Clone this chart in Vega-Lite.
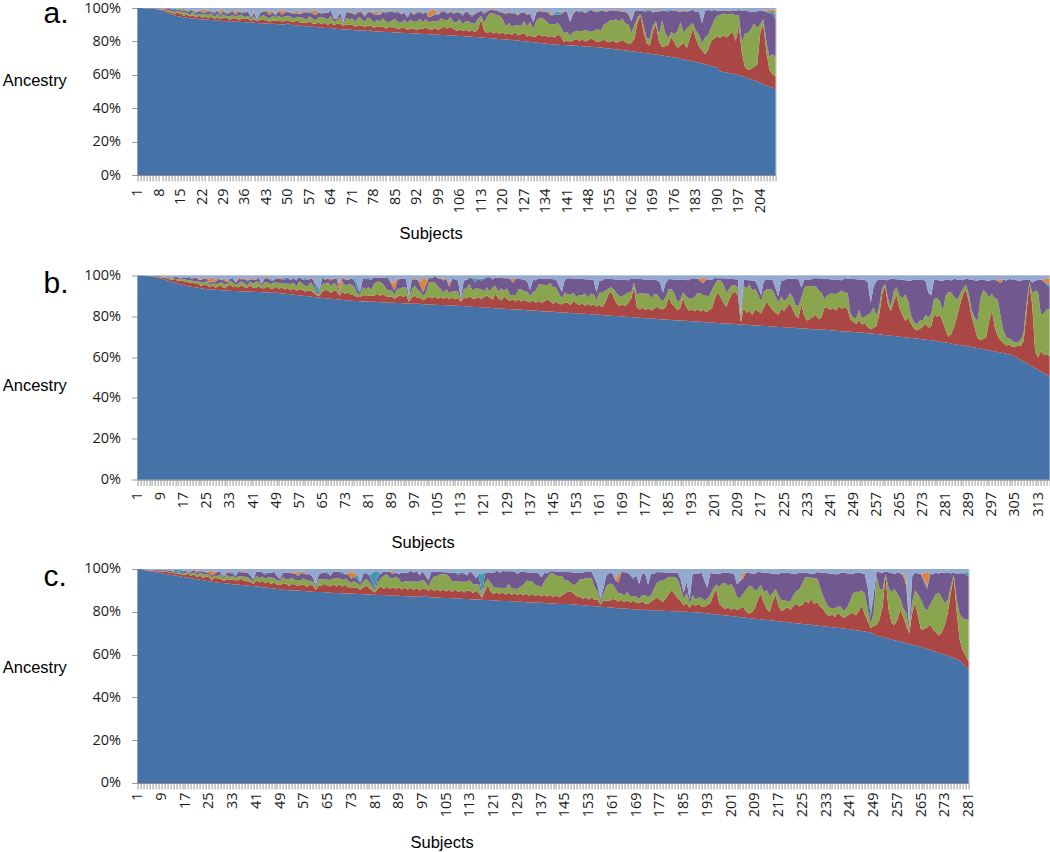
{
"$schema":"https://vega.github.io/schema/vega-lite/v6.json",
"padding":{"left":1.6,"top":-2,"right":0,"bottom":0},
"background":"white",
"spacing":8.5,
"config":{
"view":{"stroke":"#C8C8C8","strokeWidth":1},
"font":"Liberation Sans",
"axis":{"labelFont":"Open Sans","labelFontSize":14.5,"labelColor":"#1a1a1a","domainColor":"#8C8C8C","tickColor":"#9A9A9A","grid":false,"titleFont":"Liberation Sans","titleFontSize":16.5,"titleFontWeight":"normal","titleColor":"#000000"},
"title":{"font":"Liberation Sans","fontSize":30,"fontWeight":"normal","color":"#000000"}
},
"datasets":{
"A":[
{"s":1,"a":100,"b":0,"c":0,"d":0,"e":0,"f":0,"g":0},
{"s":2,"a":100,"b":0,"c":0,"d":0,"e":0,"f":0,"g":0},
{"s":3,"a":99.9,"b":0,"c":0,"d":0,"e":0,"f":0,"g":0.1},
{"s":4,"a":99.8,"b":0,"c":0,"d":0,"e":0,"f":0,"g":0.2},
{"s":5,"a":99.7,"b":0.1,"c":0,"d":0.1,"e":0,"f":0,"g":0.1},
{"s":6,"a":99.5,"b":0.1,"c":0.1,"d":0.1,"e":0,"f":0,"g":0.2},
{"s":7,"a":99.3,"b":0.2,"c":0.1,"d":0.2,"e":0,"f":0,"g":0.2},
{"s":8,"a":99,"b":0.3,"c":0.2,"d":0.2,"e":0,"f":0.1,"g":0.2},
{"s":9,"a":98.4,"b":0.5,"c":0.3,"d":0.3,"e":0.1,"f":0.1,"g":0.3},
{"s":10,"a":97.6,"b":0.9,"c":0.5,"d":0.4,"e":0.1,"f":0.2,"g":0.3},
{"s":11,"a":96.8,"b":1,"c":1,"d":1,"e":0,"f":0,"g":0.2},
{"s":12,"a":96.2,"b":1,"c":1,"d":1,"e":0,"f":0,"g":0.8},
{"s":13,"a":95.6,"b":1,"c":1,"d":1,"e":1,"f":0,"g":0.4},
{"s":14,"a":95.1,"b":2,"c":1,"d":1,"e":0,"f":0,"g":0.9},
{"s":15,"a":94.7,"b":2,"c":1,"d":1,"e":0,"f":1,"g":0.3},
{"s":16,"a":94.4,"b":1,"c":2,"d":1,"e":1,"f":0,"g":0.6},
{"s":17,"a":94.1,"b":2,"c":1,"d":1,"e":0,"f":1,"g":0.9},
{"s":18,"a":93.9,"b":1,"c":1,"d":2,"e":1,"f":0,"g":1.1},
{"s":19,"a":93.7,"b":2,"c":2,"d":1,"e":0,"f":0,"g":1.3},
{"s":20,"a":93.5,"b":1,"c":1,"d":1,"e":1,"f":1,"g":1.5},
{"s":21,"a":93.3,"b":2,"c":1,"d":2,"e":0,"f":0,"g":1.7},
{"s":22,"a":93.2,"b":1,"c":2,"d":1,"e":1,"f":1,"g":0.8},
{"s":23,"a":93.0,"b":2,"c":1,"d":1,"e":0,"f":2,"g":0.9},
{"s":24,"a":92.9,"b":1,"c":2,"d":2,"e":1,"f":0,"g":1.1},
{"s":25,"a":92.8,"b":2,"c":2,"d":1,"e":0,"f":1,"g":1.2},
{"s":26,"a":92.6,"b":1,"c":1,"d":2,"e":1,"f":0,"g":2.4},
{"s":27,"a":92.5,"b":2,"c":2,"d":2,"e":0,"f":0,"g":1.5},
{"s":28,"a":92.4,"b":1,"c":1,"d":1,"e":1,"f":2,"g":1.6},
{"s":29,"a":92.2,"b":2,"c":2,"d":2,"e":0,"f":1,"g":0.8},
{"s":30,"a":92.1,"b":2,"c":1,"d":1,"e":1,"f":0,"g":2.9},
{"s":31,"a":92.0,"b":1,"c":2,"d":2,"e":0,"f":1,"g":2.0},
{"s":32,"a":91.9,"b":2,"c":2,"d":2,"e":1,"f":0,"g":1.1},
{"s":33,"a":91.8,"b":2,"c":1,"d":1,"e":0,"f":2,"g":2.2},
{"s":34,"a":91.7,"b":1,"c":3,"d":2,"e":0,"f":1,"g":1.3},
{"s":35,"a":91.6,"b":2,"c":2,"d":1,"e":1,"f":0,"g":2.4},
{"s":36,"a":91.5,"b":2,"c":1,"d":3,"e":0,"f":1,"g":1.5},
{"s":37,"a":91.4,"b":2,"c":2,"d":2,"e":1,"f":0,"g":1.6},
{"s":38,"a":91.3,"b":1,"c":1,"d":1,"e":0,"f":0,"g":5.7},
{"s":39,"a":91.2,"b":2,"c":2,"d":2,"e":0,"f":1,"g":1.8},
{"s":40,"a":91.0,"b":1,"c":0,"d":1,"e":0,"f":0,"g":7.0},
{"s":41,"a":90.9,"b":2,"c":2,"d":2,"e":1,"f":0,"g":2.1},
{"s":42,"a":90.8,"b":2,"c":3,"d":2,"e":0,"f":1,"g":1.2},
{"s":43,"a":90.7,"b":2,"c":2,"d":3,"e":1,"f":0,"g":1.3},
{"s":44,"a":90.6,"b":1,"c":2,"d":2,"e":0,"f":2,"g":2.4},
{"s":45,"a":90.5,"b":2,"c":3,"d":2,"e":0,"f":1,"g":1.5},
{"s":46,"a":90.4,"b":2,"c":2,"d":1,"e":1,"f":0,"g":3.6},
{"s":47,"a":90.2,"b":2,"c":3,"d":3,"e":0,"f":1,"g":0.8},
{"s":48,"a":90.1,"b":2,"c":2,"d":2,"e":0,"f":2,"g":1.9},
{"s":49,"a":90.0,"b":2,"c":3,"d":2,"e":1,"f":1,"g":0.9},
{"s":50,"a":89.9,"b":2,"c":2,"d":3,"e":0,"f":0,"g":2.1},
{"s":51,"a":89.8,"b":2,"c":3,"d":2,"e":0,"f":1,"g":2.2},
{"s":52,"a":89.6,"b":2,"c":2,"d":3,"e":1,"f":0,"g":2.4},
{"s":53,"a":89.5,"b":3,"c":2,"d":2,"e":0,"f":2,"g":1.3},
{"s":54,"a":89.3,"b":2,"c":3,"d":2,"e":0,"f":0,"g":3.7},
{"s":55,"a":89.2,"b":2,"c":3,"d":3,"e":0,"f":1,"g":1.8},
{"s":56,"a":89.0,"b":2,"c":2,"d":4,"e":1,"f":0,"g":2.0},
{"s":57,"a":88.9,"b":3,"c":3,"d":2,"e":0,"f":1,"g":1.9},
{"s":58,"a":88.7,"b":2,"c":3,"d":3,"e":1,"f":1,"g":1.3},
{"s":59,"a":88.6,"b":2,"c":2,"d":3,"e":0,"f":3,"g":1.4},
{"s":60,"a":88.4,"b":3,"c":3,"d":3,"e":0,"f":0,"g":2.6},
{"s":61,"a":88.3,"b":2,"c":4,"d":2,"e":1,"f":0,"g":2.7},
{"s":62,"a":88.1,"b":3,"c":3,"d":3,"e":0,"f":1,"g":1.9},
{"s":63,"a":88.0,"b":2,"c":3,"d":4,"e":0,"f":0,"g":3.0},
{"s":64,"a":87.8,"b":3,"c":4,"d":3,"e":1,"f":0,"g":0.8},
{"s":65,"a":87.7,"b":2,"c":2,"d":2,"e":0,"f":0,"g":6.3},
{"s":66,"a":87.5,"b":3,"c":2,"d":1,"e":0,"f":0,"g":6.5},
{"s":67,"a":87.4,"b":3,"c":4,"d":3,"e":0,"f":1,"g":1.6},
{"s":68,"a":87.2,"b":2,"c":1,"d":1,"e":0,"f":0,"g":8.8},
{"s":69,"a":87.1,"b":3,"c":4,"d":3,"e":1,"f":0,"g":1.9},
{"s":70,"a":86.9,"b":3,"c":3,"d":4,"e":0,"f":1,"g":1.8},
{"s":71,"a":86.8,"b":3,"c":4,"d":3,"e":0,"f":0,"g":3.2},
{"s":72,"a":86.7,"b":2,"c":3,"d":4,"e":1,"f":1,"g":2.3},
{"s":73,"a":86.6,"b":3,"c":5,"d":3,"e":0,"f":0,"g":2.4},
{"s":74,"a":86.5,"b":3,"c":4,"d":4,"e":0,"f":1,"g":1.5},
{"s":75,"a":86.4,"b":2,"c":3,"d":3,"e":1,"f":0,"g":4.3},
{"s":76,"a":86.3,"b":3,"c":5,"d":3,"e":0,"f":1,"g":1.7},
{"s":77,"a":86.2,"b":3,"c":4,"d":4,"e":0,"f":0,"g":2.4},
{"s":78,"a":86.1,"b":2,"c":3,"d":5,"e":1,"f":1,"g":1.9},
{"s":79,"a":86.0,"b":3,"c":4,"d":3,"e":0,"f":2,"g":2.0},
{"s":80,"a":85.9,"b":3,"c":3,"d":4,"e":0,"f":0,"g":4.1},
{"s":81,"a":85.8,"b":3,"c":5,"d":4,"e":0,"f":1,"g":1.2},
{"s":82,"a":85.7,"b":2,"c":4,"d":5,"e":1,"f":0,"g":2.3},
{"s":83,"a":85.6,"b":3,"c":3,"d":6,"e":0,"f":1,"g":1.4},
{"s":84,"a":85.5,"b":3,"c":4,"d":5,"e":1,"f":0,"g":1.5},
{"s":85,"a":85.4,"b":3,"c":5,"d":4,"e":0,"f":0,"g":2.6},
{"s":86,"a":85.3,"b":2,"c":4,"d":6,"e":1,"f":1,"g":0.7},
{"s":87,"a":85.2,"b":3,"c":3,"d":5,"e":0,"f":0,"g":3.8},
{"s":88,"a":85.1,"b":3,"c":5,"d":4,"e":0,"f":1,"g":1.9},
{"s":89,"a":85.0,"b":2,"c":4,"d":3,"e":1,"f":0,"g":5.0},
{"s":90,"a":84.9,"b":3,"c":5,"d":5,"e":0,"f":0,"g":2.1},
{"s":91,"a":84.8,"b":3,"c":4,"d":4,"e":0,"f":1,"g":3.2},
{"s":92,"a":84.7,"b":2,"c":5,"d":5,"e":1,"f":0,"g":2.3},
{"s":93,"a":84.6,"b":3,"c":6,"d":4,"e":0,"f":1,"g":1.4},
{"s":94,"a":84.5,"b":3,"c":4,"d":5,"e":0,"f":0,"g":3.5},
{"s":95,"a":84.4,"b":4,"c":5,"d":4,"e":1,"f":0,"g":1.6},
{"s":96,"a":84.3,"b":3,"c":4,"d":3,"e":0,"f":3,"g":2.7},
{"s":97,"a":84.2,"b":3,"c":5,"d":3,"e":0,"f":4,"g":0.8},
{"s":98,"a":84.1,"b":4,"c":4,"d":4,"e":1,"f":2,"g":0.9},
{"s":99,"a":84.0,"b":3,"c":5,"d":4,"e":0,"f":0,"g":4.0},
{"s":100,"a":83.9,"b":4,"c":6,"d":4,"e":0,"f":1,"g":1.1},
{"s":101,"a":83.8,"b":5,"c":4,"d":5,"e":1,"f":0,"g":1.2},
{"s":102,"a":83.7,"b":4,"c":5,"d":4,"e":0,"f":0,"g":3.3},
{"s":103,"a":83.6,"b":5,"c":6,"d":3,"e":0,"f":1,"g":1.4},
{"s":104,"a":83.5,"b":4,"c":4,"d":5,"e":1,"f":0,"g":2.5},
{"s":105,"a":83.4,"b":3,"c":5,"d":6,"e":0,"f":1,"g":1.6},
{"s":106,"a":83.3,"b":4,"c":6,"d":4,"e":0,"f":0,"g":2.7},
{"s":107,"a":83.2,"b":3,"c":4,"d":5,"e":1,"f":1,"g":2.8},
{"s":108,"a":83.0,"b":4,"c":5,"d":6,"e":0,"f":0,"g":2.0},
{"s":109,"a":82.9,"b":3,"c":6,"d":5,"e":0,"f":1,"g":2.1},
{"s":110,"a":82.8,"b":4,"c":4,"d":4,"e":1,"f":0,"g":4.2},
{"s":111,"a":82.6,"b":3,"c":5,"d":6,"e":0,"f":1,"g":2.4},
{"s":112,"a":82.5,"b":5,"c":6,"d":4,"e":0,"f":0,"g":2.5},
{"s":113,"a":82.3,"b":11,"c":2,"d":3,"e":0,"f":0,"g":1.7},
{"s":114,"a":82.2,"b":4,"c":5,"d":5,"e":1,"f":1,"g":1.8},
{"s":115,"a":82.0,"b":3,"c":10,"d":3,"e":0,"f":0,"g":2.0},
{"s":116,"a":81.9,"b":4,"c":11,"d":2,"e":0,"f":0,"g":1.1},
{"s":117,"a":81.7,"b":3,"c":12,"d":2,"e":0,"f":1,"g":0.3},
{"s":118,"a":81.6,"b":4,"c":10,"d":3,"e":0,"f":0,"g":1.4},
{"s":119,"a":81.4,"b":3,"c":11,"d":2,"e":1,"f":0,"g":1.6},
{"s":120,"a":81.3,"b":4,"c":8,"d":4,"e":0,"f":1,"g":1.7},
{"s":121,"a":81.1,"b":3,"c":5,"d":7,"e":1,"f":0,"g":2.9},
{"s":122,"a":81.0,"b":4,"c":6,"d":6,"e":0,"f":1,"g":2.0},
{"s":123,"a":80.8,"b":3,"c":5,"d":8,"e":0,"f":0,"g":3.2},
{"s":124,"a":80.7,"b":5,"c":4,"d":7,"e":1,"f":0,"g":2.3},
{"s":125,"a":80.5,"b":3,"c":6,"d":6,"e":0,"f":1,"g":3.5},
{"s":126,"a":80.3,"b":4,"c":5,"d":8,"e":0,"f":0,"g":2.7},
{"s":127,"a":80.1,"b":5,"c":7,"d":5,"e":1,"f":0,"g":1.9},
{"s":128,"a":79.9,"b":3,"c":6,"d":7,"e":0,"f":1,"g":3.1},
{"s":129,"a":79.7,"b":4,"c":8,"d":5,"e":0,"f":0,"g":3.3},
{"s":130,"a":79.5,"b":3,"c":5,"d":4,"e":0,"f":0,"g":8.5},
{"s":131,"a":79.3,"b":4,"c":9,"d":5,"e":0,"f":1,"g":1.7},
{"s":132,"a":79.1,"b":5,"c":10,"d":4,"e":1,"f":0,"g":0.9},
{"s":133,"a":78.9,"b":4,"c":11,"d":4,"e":0,"f":1,"g":1.1},
{"s":134,"a":78.7,"b":5,"c":9,"d":5,"e":0,"f":0,"g":2.3},
{"s":135,"a":78.5,"b":4,"c":8,"d":6,"e":1,"f":1,"g":1.5},
{"s":136,"a":78.3,"b":5,"c":7,"d":5,"e":0,"f":1,"g":3.7},
{"s":137,"a":78.2,"b":4,"c":8,"d":6,"e":1,"f":0,"g":2.8},
{"s":138,"a":78.0,"b":6,"c":7,"d":5,"e":2,"f":0,"g":2.0},
{"s":139,"a":77.9,"b":5,"c":6,"d":7,"e":1,"f":1,"g":2.1},
{"s":140,"a":77.8,"b":2,"c":5,"d":13,"e":0,"f":0,"g":2.2},
{"s":141,"a":77.7,"b":3,"c":5,"d":12,"e":1,"f":0,"g":1.3},
{"s":142,"a":77.6,"b":2,"c":4,"d":8,"e":0,"f":0,"g":8.4},
{"s":143,"a":77.5,"b":3,"c":5,"d":11,"e":0,"f":1,"g":2.5},
{"s":144,"a":77.4,"b":4,"c":5,"d":12,"e":0,"f":0,"g":1.6},
{"s":145,"a":77.3,"b":3,"c":6,"d":11,"e":1,"f":0,"g":1.7},
{"s":146,"a":77.1,"b":4,"c":5,"d":12,"e":0,"f":1,"g":0.9},
{"s":147,"a":77.0,"b":3,"c":7,"d":10,"e":0,"f":0,"g":3.0},
{"s":148,"a":76.9,"b":4,"c":5,"d":12,"e":1,"f":0,"g":1.1},
{"s":149,"a":76.8,"b":5,"c":4,"d":13,"e":0,"f":0,"g":1.2},
{"s":150,"a":76.6,"b":4,"c":6,"d":11,"e":0,"f":1,"g":1.4},
{"s":151,"a":76.5,"b":3,"c":8,"d":10,"e":1,"f":0,"g":1.5},
{"s":152,"a":76.3,"b":4,"c":6,"d":12,"e":0,"f":0,"g":1.7},
{"s":153,"a":76.1,"b":5,"c":9,"d":8,"e":0,"f":1,"g":0.9},
{"s":154,"a":75.9,"b":4,"c":11,"d":7,"e":0,"f":0,"g":2.1},
{"s":155,"a":75.7,"b":4,"c":13,"d":6,"e":0,"f":0,"g":1.3},
{"s":156,"a":75.5,"b":5,"c":12,"d":6,"e":0,"f":1,"g":0.5},
{"s":157,"a":75.2,"b":4,"c":14,"d":5,"e":0,"f":0,"g":1.8},
{"s":158,"a":75.0,"b":5,"c":12,"d":6,"e":1,"f":0,"g":1.0},
{"s":159,"a":74.8,"b":6,"c":13,"d":4,"e":0,"f":1,"g":1.2},
{"s":160,"a":74.6,"b":5,"c":11,"d":7,"e":0,"f":0,"g":2.4},
{"s":161,"a":74.4,"b":4,"c":12,"d":6,"e":0,"f":1,"g":2.6},
{"s":162,"a":74.1,"b":5,"c":6,"d":7,"e":0,"f":0,"g":7.9},
{"s":163,"a":73.9,"b":8,"c":8,"d":8,"e":0,"f":1,"g":1.1},
{"s":164,"a":73.6,"b":18,"c":3,"d":4,"e":0,"f":0,"g":1.4},
{"s":165,"a":73.4,"b":22,"c":1,"d":2,"e":0,"f":0,"g":1.6},
{"s":166,"a":73.1,"b":12,"c":4,"d":9,"e":0,"f":0,"g":1.9},
{"s":167,"a":72.9,"b":6,"c":3,"d":16,"e":1,"f":0,"g":1.1},
{"s":168,"a":72.6,"b":5,"c":4,"d":17,"e":0,"f":1,"g":0.4},
{"s":169,"a":72.3,"b":14,"c":3,"d":8,"e":0,"f":0,"g":2.7},
{"s":170,"a":72.1,"b":18,"c":2,"d":6,"e":0,"f":0,"g":1.9},
{"s":171,"a":71.8,"b":8,"c":4,"d":14,"e":0,"f":1,"g":1.2},
{"s":172,"a":71.5,"b":5,"c":16,"d":6,"e":0,"f":0,"g":1.5},
{"s":173,"a":71.2,"b":6,"c":8,"d":13,"e":0,"f":0,"g":1.8},
{"s":174,"a":70.9,"b":7,"c":4,"d":16,"e":1,"f":0,"g":1.1},
{"s":175,"a":70.6,"b":12,"c":3,"d":13,"e":0,"f":0,"g":1.4},
{"s":176,"a":70.3,"b":9,"c":5,"d":14,"e":0,"f":0,"g":1.7},
{"s":177,"a":70.0,"b":6,"c":10,"d":12,"e":0,"f":1,"g":1.0},
{"s":178,"a":69.6,"b":8,"c":14,"d":6,"e":0,"f":0,"g":2.4},
{"s":179,"a":69.2,"b":10,"c":6,"d":13,"e":0,"f":0,"g":1.8},
{"s":180,"a":68.8,"b":7,"c":12,"d":10,"e":0,"f":1,"g":1.2},
{"s":181,"a":68.4,"b":13,"c":8,"d":9,"e":0,"f":0,"g":1.6},
{"s":182,"a":68.0,"b":20,"c":3,"d":8,"e":0,"f":0,"g":1.0},
{"s":183,"a":67.6,"b":14,"c":5,"d":11,"e":0,"f":0,"g":2.4},
{"s":184,"a":67.2,"b":10,"c":7,"d":14,"e":0,"f":0,"g":1.8},
{"s":185,"a":66.8,"b":8,"c":4,"d":12,"e":0,"f":0,"g":9.2},
{"s":186,"a":66.3,"b":6,"c":10,"d":16,"e":0,"f":0,"g":1.7},
{"s":187,"a":65.8,"b":9,"c":9,"d":15,"e":0,"f":0,"g":1.2},
{"s":188,"a":65.3,"b":15,"c":8,"d":10,"e":0,"f":0,"g":1.7},
{"s":189,"a":64.8,"b":17,"c":11,"d":6,"e":0,"f":0,"g":1.2},
{"s":190,"a":64.3,"b":19,"c":12,"d":3,"e":0,"f":0,"g":1.7},
{"s":191,"a":62.0,"b":20,"c":14,"d":2,"e":0,"f":0,"g":2.0},
{"s":192,"a":61.7,"b":22,"c":13,"d":2,"e":0,"f":0,"g":1.3},
{"s":193,"a":61.4,"b":21,"c":14,"d":2,"e":0,"f":0,"g":1.6},
{"s":194,"a":61.1,"b":23,"c":12,"d":2,"e":0,"f":0,"g":1.9},
{"s":195,"a":60.7,"b":25,"c":11,"d":2,"e":0,"f":0,"g":1.3},
{"s":196,"a":60.3,"b":20,"c":15,"d":3,"e":0,"f":0,"g":1.7},
{"s":197,"a":59.8,"b":30,"c":6,"d":3,"e":0,"f":0,"g":1.2},
{"s":198,"a":59.3,"b":14,"c":6,"d":19,"e":0,"f":0,"g":1.7},
{"s":199,"a":58.7,"b":6,"c":20,"d":14,"e":0,"f":0,"g":1.3},
{"s":200,"a":58.1,"b":5,"c":22,"d":13,"e":0,"f":0,"g":1.9},
{"s":201,"a":57.4,"b":6,"c":24,"d":10,"e":0,"f":0,"g":2.6},
{"s":202,"a":56.7,"b":8,"c":26,"d":7,"e":0,"f":0,"g":2.3},
{"s":203,"a":56.0,"b":10,"c":22,"d":10,"e":0,"f":0,"g":2.0},
{"s":204,"a":55.2,"b":30,"c":5,"d":8,"e":0,"f":0,"g":1.8},
{"s":205,"a":54.4,"b":36,"c":3,"d":5,"e":0,"f":0,"g":1.6},
{"s":206,"a":53.6,"b":20,"c":6,"d":18,"e":0,"f":1,"g":1.4},
{"s":207,"a":52.8,"b":10,"c":8,"d":26,"e":1,"f":1,"g":1.2},
{"s":208,"a":52.3,"b":8,"c":12,"d":24,"e":2,"f":1,"g":0.7},
{"s":209,"a":52.0,"b":7,"c":12,"d":22,"e":3,"f":3,"g":1.0}
],
"B":[
{"s":1,"a":100,"b":0,"c":0,"d":0,"e":0,"f":0,"g":0},
{"s":2,"a":100,"b":0,"c":0,"d":0,"e":0,"f":0,"g":0},
{"s":3,"a":99.9,"b":0,"c":0,"d":0,"e":0,"f":0,"g":0.1},
{"s":4,"a":99.8,"b":0,"c":0,"d":0,"e":0,"f":0,"g":0.2},
{"s":5,"a":99.6,"b":0.1,"c":0,"d":0.1,"e":0,"f":0,"g":0.2},
{"s":6,"a":99.4,"b":0.2,"c":0.1,"d":0.1,"e":0,"f":0,"g":0.2},
{"s":7,"a":99.2,"b":0.3,"c":0.1,"d":0.1,"e":0,"f":0,"g":0.3},
{"s":8,"a":98.9,"b":0.4,"c":0.2,"d":0.2,"e":0,"f":0,"g":0.3},
{"s":9,"a":98.5,"b":0.5,"c":0.2,"d":0.3,"e":0.1,"f":0,"g":0.4},
{"s":10,"a":98.1,"b":0.7,"c":0.3,"d":0.3,"e":0.1,"f":0,"g":0.5},
{"s":11,"a":97.7,"b":1,"c":0.3,"d":0.3,"e":0.1,"f":0.1,"g":0.5},
{"s":12,"a":97.2,"b":1,"c":0.5,"d":0.4,"e":0.2,"f":0.1,"g":0.6},
{"s":13,"a":96.8,"b":1,"c":1,"d":0,"e":0,"f":0,"g":1.2},
{"s":14,"a":96.4,"b":2,"c":0,"d":1,"e":0,"f":0,"g":0.6},
{"s":15,"a":96.0,"b":1,"c":1,"d":1,"e":0,"f":0,"g":1.0},
{"s":16,"a":95.6,"b":2,"c":1,"d":0,"e":0,"f":0,"g":1.4},
{"s":17,"a":95.2,"b":2,"c":1,"d":1,"e":0,"f":0,"g":0.8},
{"s":18,"a":94.9,"b":2,"c":1,"d":1,"e":0,"f":0,"g":1.1},
{"s":19,"a":94.6,"b":2,"c":1,"d":1,"e":1,"f":0,"g":0.4},
{"s":20,"a":94.4,"b":2,"c":1,"d":1,"e":0,"f":0,"g":1.6},
{"s":21,"a":94.2,"b":2,"c":1,"d":2,"e":0,"f":0,"g":0.8},
{"s":22,"a":94.0,"b":2,"c":1,"d":1,"e":0,"f":1,"g":1.0},
{"s":23,"a":93.8,"b":1,"c":2,"d":1,"e":0,"f":0,"g":2.2},
{"s":24,"a":93.5,"b":2,"c":1,"d":2,"e":0,"f":1,"g":0.5},
{"s":25,"a":93.3,"b":2,"c":2,"d":1,"e":0,"f":0,"g":1.7},
{"s":26,"a":93.2,"b":1,"c":1,"d":1,"e":0,"f":2,"g":1.8},
{"s":27,"a":93.1,"b":2,"c":1,"d":1,"e":0,"f":2,"g":0.9},
{"s":28,"a":93.0,"b":1,"c":2,"d":1,"e":0,"f":1,"g":2.0},
{"s":29,"a":92.9,"b":2,"c":1,"d":2,"e":1,"f":0,"g":1.1},
{"s":30,"a":92.8,"b":2,"c":2,"d":1,"e":0,"f":0,"g":2.2},
{"s":31,"a":92.7,"b":1,"c":2,"d":2,"e":0,"f":1,"g":1.3},
{"s":32,"a":92.6,"b":2,"c":1,"d":1,"e":0,"f":1,"g":2.4},
{"s":33,"a":92.5,"b":3,"c":2,"d":1,"e":0,"f":0,"g":1.5},
{"s":34,"a":92.4,"b":2,"c":2,"d":2,"e":1,"f":0,"g":0.6},
{"s":35,"a":92.4,"b":2,"c":1,"d":1,"e":0,"f":0,"g":3.6},
{"s":36,"a":92.3,"b":2,"c":2,"d":2,"e":0,"f":1,"g":0.7},
{"s":37,"a":92.2,"b":3,"c":2,"d":1,"e":0,"f":0,"g":1.8},
{"s":38,"a":92.2,"b":2,"c":2,"d":2,"e":0,"f":1,"g":0.8},
{"s":39,"a":92.1,"b":2,"c":1,"d":2,"e":1,"f":0,"g":1.9},
{"s":40,"a":92.1,"b":3,"c":2,"d":1,"e":0,"f":0,"g":1.9},
{"s":41,"a":92.0,"b":2,"c":2,"d":2,"e":0,"f":1,"g":1.0},
{"s":42,"a":91.9,"b":2,"c":3,"d":1,"e":0,"f":0,"g":2.1},
{"s":43,"a":91.9,"b":3,"c":2,"d":2,"e":0,"f":0,"g":1.1},
{"s":44,"a":91.8,"b":2,"c":1,"d":1,"e":0,"f":0,"g":4.2},
{"s":45,"a":91.7,"b":2,"c":3,"d":2,"e":0,"f":0,"g":1.3},
{"s":46,"a":91.7,"b":3,"c":2,"d":2,"e":0,"f":1,"g":0.3},
{"s":47,"a":91.6,"b":2,"c":2,"d":2,"e":1,"f":0,"g":1.4},
{"s":48,"a":91.6,"b":2,"c":3,"d":1,"e":0,"f":0,"g":2.4},
{"s":49,"a":91.5,"b":3,"c":2,"d":2,"e":0,"f":0,"g":1.5},
{"s":50,"a":91.4,"b":2,"c":3,"d":2,"e":0,"f":1,"g":0.6},
{"s":51,"a":91.2,"b":3,"c":2,"d":2,"e":0,"f":0,"g":1.8},
{"s":52,"a":91.1,"b":2,"c":3,"d":2,"e":1,"f":0,"g":0.9},
{"s":53,"a":90.9,"b":3,"c":2,"d":3,"e":0,"f":0,"g":1.1},
{"s":54,"a":90.8,"b":2,"c":3,"d":2,"e":0,"f":0,"g":2.2},
{"s":55,"a":90.6,"b":3,"c":3,"d":2,"e":0,"f":0,"g":1.4},
{"s":56,"a":90.5,"b":2,"c":2,"d":3,"e":0,"f":0,"g":2.5},
{"s":57,"a":90.3,"b":3,"c":4,"d":2,"e":0,"f":0,"g":0.7},
{"s":58,"a":90.1,"b":3,"c":3,"d":2,"e":0,"f":0,"g":1.9},
{"s":59,"a":90.0,"b":2,"c":3,"d":3,"e":1,"f":0,"g":1.0},
{"s":60,"a":89.8,"b":3,"c":2,"d":3,"e":0,"f":0,"g":2.2},
{"s":61,"a":89.7,"b":3,"c":4,"d":2,"e":0,"f":0,"g":1.3},
{"s":62,"a":89.5,"b":2,"c":3,"d":3,"e":0,"f":1,"g":1.5},
{"s":63,"a":89.3,"b":1,"c":1,"d":1,"e":3,"f":0,"g":4.7},
{"s":64,"a":89.2,"b":1,"c":1,"d":1,"e":1,"f":0,"g":6.8},
{"s":65,"a":89.0,"b":3,"c":4,"d":3,"e":0,"f":0,"g":1.0},
{"s":66,"a":88.9,"b":4,"c":3,"d":2,"e":0,"f":0,"g":2.1},
{"s":67,"a":88.7,"b":4,"c":4,"d":2,"e":0,"f":0,"g":1.3},
{"s":68,"a":88.6,"b":3,"c":3,"d":3,"e":0,"f":1,"g":1.4},
{"s":69,"a":88.5,"b":4,"c":4,"d":2,"e":0,"f":0,"g":1.5},
{"s":70,"a":88.3,"b":4,"c":3,"d":3,"e":0,"f":0,"g":1.7},
{"s":71,"a":88.2,"b":2,"c":1,"d":1,"e":0,"f":4,"g":3.8},
{"s":72,"a":88.0,"b":4,"c":5,"d":2,"e":0,"f":0,"g":1.0},
{"s":73,"a":87.9,"b":3,"c":4,"d":3,"e":0,"f":1,"g":1.1},
{"s":74,"a":87.8,"b":4,"c":4,"d":2,"e":0,"f":0,"g":2.2},
{"s":75,"a":87.6,"b":3,"c":5,"d":3,"e":0,"f":0,"g":1.4},
{"s":76,"a":87.5,"b":3,"c":4,"d":3,"e":1,"f":0,"g":1.5},
{"s":77,"a":87.5,"b":2,"c":2,"d":2,"e":3,"f":0,"g":3.5},
{"s":78,"a":87.4,"b":2,"c":1,"d":1,"e":1,"f":0,"g":7.6},
{"s":79,"a":87.3,"b":3,"c":4,"d":4,"e":0,"f":0,"g":1.7},
{"s":80,"a":87.3,"b":3,"c":3,"d":5,"e":0,"f":0,"g":1.7},
{"s":81,"a":87.2,"b":3,"c":4,"d":4,"e":1,"f":0,"g":0.8},
{"s":82,"a":87.1,"b":3,"c":3,"d":5,"e":0,"f":0,"g":1.9},
{"s":83,"a":87.1,"b":3,"c":6,"d":3,"e":0,"f":0,"g":0.9},
{"s":84,"a":87.0,"b":4,"c":6,"d":2,"e":0,"f":0,"g":1.0},
{"s":85,"a":86.9,"b":3,"c":7,"d":2,"e":0,"f":0,"g":1.1},
{"s":86,"a":86.9,"b":4,"c":5,"d":3,"e":0,"f":0,"g":1.1},
{"s":87,"a":86.8,"b":3,"c":4,"d":5,"e":0,"f":0,"g":1.2},
{"s":88,"a":86.7,"b":3,"c":3,"d":6,"e":0,"f":0,"g":1.3},
{"s":89,"a":86.7,"b":3,"c":3,"d":3,"e":0,"f":1,"g":3.3},
{"s":90,"a":86.6,"b":2,"c":2,"d":2,"e":0,"f":4,"g":3.4},
{"s":91,"a":86.5,"b":3,"c":4,"d":4,"e":0,"f":1,"g":1.5},
{"s":92,"a":86.5,"b":4,"c":3,"d":5,"e":0,"f":0,"g":1.5},
{"s":93,"a":86.4,"b":3,"c":5,"d":4,"e":0,"f":0,"g":1.6},
{"s":94,"a":86.3,"b":4,"c":4,"d":4,"e":0,"f":0,"g":1.7},
{"s":95,"a":86.3,"b":1,"c":1,"d":1,"e":0,"f":0,"g":10.7},
{"s":96,"a":86.2,"b":3,"c":4,"d":5,"e":0,"f":0,"g":1.8},
{"s":97,"a":86.1,"b":4,"c":5,"d":3,"e":0,"f":1,"g":0.9},
{"s":98,"a":86.1,"b":3,"c":4,"d":5,"e":0,"f":0,"g":1.9},
{"s":99,"a":86.0,"b":3,"c":3,"d":3,"e":0,"f":2,"g":3.0},
{"s":100,"a":85.9,"b":2,"c":2,"d":2,"e":0,"f":7,"g":1.1},
{"s":101,"a":85.9,"b":3,"c":3,"d":4,"e":0,"f":2,"g":2.1},
{"s":102,"a":85.8,"b":4,"c":7,"d":2,"e":0,"f":0,"g":1.2},
{"s":103,"a":85.7,"b":3,"c":8,"d":2,"e":0,"f":0,"g":1.3},
{"s":104,"a":85.7,"b":4,"c":7,"d":3,"e":0,"f":0,"g":0.3},
{"s":105,"a":85.6,"b":3,"c":6,"d":4,"e":0,"f":0,"g":1.4},
{"s":106,"a":85.5,"b":4,"c":4,"d":5,"e":0,"f":0,"g":1.5},
{"s":107,"a":85.5,"b":3,"c":3,"d":6,"e":0,"f":1,"g":1.5},
{"s":108,"a":85.4,"b":4,"c":4,"d":5,"e":0,"f":0,"g":1.6},
{"s":109,"a":85.3,"b":3,"c":3,"d":3,"e":0,"f":2,"g":3.7},
{"s":110,"a":85.3,"b":4,"c":3,"d":6,"e":0,"f":0,"g":1.7},
{"s":111,"a":85.2,"b":3,"c":4,"d":6,"e":0,"f":0,"g":1.8},
{"s":112,"a":85.2,"b":4,"c":3,"d":5,"e":1,"f":0,"g":1.8},
{"s":113,"a":85.1,"b":2,"c":1,"d":1,"e":0,"f":0,"g":10.9},
{"s":114,"a":85.0,"b":4,"c":4,"d":4,"e":1,"f":0,"g":2.0},
{"s":115,"a":84.9,"b":4,"c":5,"d":4,"e":0,"f":0,"g":2.1},
{"s":116,"a":84.8,"b":5,"c":6,"d":3,"e":0,"f":0,"g":1.2},
{"s":117,"a":84.7,"b":4,"c":4,"d":6,"e":0,"f":0,"g":1.3},
{"s":118,"a":84.6,"b":4,"c":5,"d":3,"e":2,"f":0,"g":1.4},
{"s":119,"a":84.5,"b":5,"c":4,"d":5,"e":0,"f":0,"g":1.5},
{"s":120,"a":84.4,"b":4,"c":5,"d":4,"e":1,"f":0,"g":1.6},
{"s":121,"a":84.3,"b":5,"c":3,"d":6,"e":0,"f":0,"g":1.7},
{"s":122,"a":84.2,"b":6,"c":4,"d":5,"e":0,"f":0,"g":0.8},
{"s":123,"a":84.2,"b":5,"c":3,"d":7,"e":0,"f":0,"g":0.8},
{"s":124,"a":84.1,"b":4,"c":6,"d":4,"e":0,"f":0,"g":1.9},
{"s":125,"a":84.0,"b":7,"c":4,"d":4,"e":0,"f":0,"g":1.0},
{"s":126,"a":83.9,"b":5,"c":3,"d":7,"e":0,"f":0,"g":1.1},
{"s":127,"a":83.8,"b":4,"c":6,"d":5,"e":0,"f":0,"g":1.2},
{"s":128,"a":83.7,"b":6,"c":3,"d":6,"e":0,"f":0,"g":1.3},
{"s":129,"a":83.6,"b":5,"c":5,"d":5,"e":0,"f":0,"g":1.4},
{"s":130,"a":83.5,"b":4,"c":3,"d":8,"e":0,"f":0,"g":1.5},
{"s":131,"a":83.4,"b":5,"c":2,"d":6,"e":0,"f":2,"g":1.6},
{"s":132,"a":83.3,"b":4,"c":3,"d":8,"e":0,"f":0,"g":1.7},
{"s":133,"a":83.3,"b":5,"c":5,"d":5,"e":0,"f":0,"g":1.7},
{"s":134,"a":83.2,"b":4,"c":6,"d":5,"e":0,"f":0,"g":1.8},
{"s":135,"a":83.1,"b":5,"c":4,"d":6,"e":0,"f":0,"g":1.9},
{"s":136,"a":83.0,"b":4,"c":5,"d":5,"e":0,"f":0,"g":3.0},
{"s":137,"a":82.9,"b":4,"c":3,"d":3,"e":0,"f":0,"g":7.1},
{"s":138,"a":82.8,"b":5,"c":4,"d":6,"e":0,"f":0,"g":2.2},
{"s":139,"a":82.7,"b":4,"c":6,"d":5,"e":0,"f":0,"g":2.3},
{"s":140,"a":82.6,"b":5,"c":8,"d":3,"e":0,"f":0,"g":1.4},
{"s":141,"a":82.5,"b":4,"c":9,"d":3,"e":0,"f":0,"g":1.5},
{"s":142,"a":82.4,"b":5,"c":8,"d":3,"e":0,"f":0,"g":1.6},
{"s":143,"a":82.4,"b":6,"c":7,"d":3,"e":0,"f":0,"g":1.6},
{"s":144,"a":82.3,"b":5,"c":9,"d":2,"e":0,"f":0,"g":1.7},
{"s":145,"a":82.2,"b":4,"c":8,"d":4,"e":0,"f":0,"g":1.8},
{"s":146,"a":82.1,"b":5,"c":7,"d":4,"e":0,"f":0,"g":1.9},
{"s":147,"a":82.0,"b":4,"c":5,"d":4,"e":0,"f":0,"g":5.0},
{"s":148,"a":81.9,"b":4,"c":3,"d":3,"e":0,"f":0,"g":8.1},
{"s":149,"a":81.8,"b":5,"c":5,"d":6,"e":0,"f":0,"g":2.2},
{"s":150,"a":81.7,"b":5,"c":4,"d":8,"e":0,"f":0,"g":1.3},
{"s":151,"a":81.6,"b":4,"c":5,"d":8,"e":0,"f":0,"g":1.4},
{"s":152,"a":81.5,"b":6,"c":4,"d":7,"e":0,"f":0,"g":1.5},
{"s":153,"a":81.5,"b":5,"c":3,"d":9,"e":0,"f":0,"g":1.5},
{"s":154,"a":81.4,"b":4,"c":5,"d":8,"e":0,"f":0,"g":1.6},
{"s":155,"a":81.3,"b":5,"c":4,"d":8,"e":0,"f":0,"g":1.7},
{"s":156,"a":81.2,"b":4,"c":6,"d":7,"e":0,"f":0,"g":1.8},
{"s":157,"a":81.1,"b":5,"c":3,"d":9,"e":0,"f":0,"g":1.9},
{"s":158,"a":81.0,"b":4,"c":6,"d":7,"e":0,"f":0,"g":2.0},
{"s":159,"a":80.9,"b":5,"c":5,"d":7,"e":0,"f":0,"g":2.1},
{"s":160,"a":80.8,"b":4,"c":3,"d":4,"e":0,"f":0,"g":8.2},
{"s":161,"a":80.7,"b":5,"c":6,"d":6,"e":0,"f":0,"g":2.3},
{"s":162,"a":80.6,"b":4,"c":7,"d":6,"e":0,"f":0,"g":2.4},
{"s":163,"a":80.5,"b":6,"c":6,"d":6,"e":0,"f":0,"g":1.5},
{"s":164,"a":80.4,"b":10,"c":3,"d":5,"e":0,"f":0,"g":1.6},
{"s":165,"a":80.3,"b":12,"c":2,"d":4,"e":0,"f":0,"g":1.7},
{"s":166,"a":80.2,"b":9,"c":4,"d":5,"e":0,"f":0,"g":1.8},
{"s":167,"a":80.1,"b":6,"c":5,"d":7,"e":0,"f":0,"g":1.9},
{"s":168,"a":80.0,"b":5,"c":5,"d":8,"e":0,"f":0,"g":2.0},
{"s":169,"a":79.9,"b":6,"c":4,"d":8,"e":0,"f":0,"g":2.1},
{"s":170,"a":79.8,"b":5,"c":6,"d":7,"e":0,"f":0,"g":2.2},
{"s":171,"a":79.7,"b":7,"c":5,"d":6,"e":0,"f":0,"g":2.3},
{"s":172,"a":79.6,"b":9,"c":3,"d":7,"e":0,"f":0,"g":1.4},
{"s":173,"a":79.5,"b":15,"c":2,"d":2,"e":0,"f":0,"g":1.5},
{"s":174,"a":79.4,"b":5,"c":6,"d":8,"e":0,"f":0,"g":1.6},
{"s":175,"a":79.3,"b":4,"c":8,"d":7,"e":0,"f":0,"g":1.7},
{"s":176,"a":79.2,"b":5,"c":7,"d":7,"e":0,"f":0,"g":1.8},
{"s":177,"a":79.1,"b":4,"c":8,"d":7,"e":0,"f":0,"g":1.9},
{"s":178,"a":79.0,"b":5,"c":7,"d":7,"e":0,"f":0,"g":2.0},
{"s":179,"a":78.9,"b":4,"c":6,"d":9,"e":0,"f":0,"g":2.1},
{"s":180,"a":78.8,"b":5,"c":7,"d":7,"e":0,"f":0,"g":2.2},
{"s":181,"a":78.7,"b":6,"c":6,"d":7,"e":0,"f":0,"g":2.3},
{"s":182,"a":78.6,"b":5,"c":5,"d":8,"e":0,"f":0,"g":3.4},
{"s":183,"a":78.5,"b":5,"c":4,"d":4,"e":0,"f":0,"g":8.5},
{"s":184,"a":78.4,"b":6,"c":5,"d":7,"e":0,"f":0,"g":3.6},
{"s":185,"a":78.3,"b":11,"c":4,"d":5,"e":0,"f":0,"g":1.7},
{"s":186,"a":78.2,"b":8,"c":7,"d":5,"e":0,"f":0,"g":1.8},
{"s":187,"a":78.1,"b":7,"c":6,"d":7,"e":0,"f":0,"g":1.9},
{"s":188,"a":78.0,"b":5,"c":4,"d":11,"e":0,"f":0,"g":2.0},
{"s":189,"a":77.9,"b":6,"c":4,"d":10,"e":0,"f":0,"g":2.1},
{"s":190,"a":77.8,"b":11,"c":3,"d":6,"e":0,"f":0,"g":2.2},
{"s":191,"a":77.8,"b":7,"c":5,"d":8,"e":0,"f":0,"g":2.2},
{"s":192,"a":77.7,"b":5,"c":6,"d":9,"e":0,"f":0,"g":2.3},
{"s":193,"a":77.6,"b":6,"c":5,"d":10,"e":0,"f":0,"g":1.4},
{"s":194,"a":77.5,"b":5,"c":7,"d":9,"e":0,"f":0,"g":1.5},
{"s":195,"a":77.4,"b":6,"c":8,"d":7,"e":0,"f":0,"g":1.6},
{"s":196,"a":77.3,"b":5,"c":9,"d":6,"e":0,"f":1,"g":1.7},
{"s":197,"a":77.2,"b":6,"c":7,"d":6,"e":0,"f":3,"g":0.8},
{"s":198,"a":77.1,"b":5,"c":8,"d":8,"e":0,"f":0,"g":1.9},
{"s":199,"a":77.0,"b":6,"c":7,"d":8,"e":0,"f":0,"g":2.0},
{"s":200,"a":76.9,"b":7,"c":9,"d":5,"e":0,"f":0,"g":2.1},
{"s":201,"a":76.8,"b":12,"c":7,"d":3,"e":0,"f":0,"g":1.2},
{"s":202,"a":76.7,"b":15,"c":6,"d":1,"e":0,"f":0,"g":1.3},
{"s":203,"a":76.6,"b":13,"c":8,"d":1,"e":0,"f":0,"g":1.4},
{"s":204,"a":76.6,"b":10,"c":9,"d":3,"e":0,"f":0,"g":1.4},
{"s":205,"a":76.5,"b":8,"c":7,"d":7,"e":0,"f":0,"g":1.5},
{"s":206,"a":76.4,"b":12,"c":5,"d":5,"e":0,"f":0,"g":1.6},
{"s":207,"a":76.3,"b":15,"c":4,"d":3,"e":0,"f":0,"g":1.7},
{"s":208,"a":76.2,"b":16,"c":3,"d":3,"e":0,"f":0,"g":1.8},
{"s":209,"a":76.1,"b":14,"c":4,"d":4,"e":0,"f":0,"g":1.9},
{"s":210,"a":76.0,"b":1,"c":1,"d":1,"e":2,"f":0,"g":19.0},
{"s":211,"a":75.9,"b":8,"c":11,"d":3,"e":0,"f":0,"g":2.1},
{"s":212,"a":75.8,"b":6,"c":12,"d":4,"e":0,"f":0,"g":2.2},
{"s":213,"a":75.7,"b":7,"c":13,"d":2,"e":0,"f":0,"g":2.3},
{"s":214,"a":75.6,"b":5,"c":12,"d":5,"e":0,"f":0,"g":2.4},
{"s":215,"a":75.5,"b":8,"c":10,"d":4,"e":0,"f":0,"g":2.5},
{"s":216,"a":75.5,"b":7,"c":8,"d":4,"e":0,"f":0,"g":5.5},
{"s":217,"a":75.4,"b":6,"c":6,"d":3,"e":0,"f":0,"g":9.6},
{"s":218,"a":75.3,"b":9,"c":8,"d":5,"e":0,"f":0,"g":2.7},
{"s":219,"a":75.2,"b":12,"c":6,"d":5,"e":0,"f":0,"g":1.8},
{"s":220,"a":75.1,"b":10,"c":8,"d":5,"e":0,"f":0,"g":1.9},
{"s":221,"a":75.0,"b":8,"c":10,"d":5,"e":0,"f":0,"g":2.0},
{"s":222,"a":74.9,"b":7,"c":8,"d":4,"e":0,"f":0,"g":6.1},
{"s":223,"a":74.8,"b":6,"c":6,"d":3,"e":0,"f":0,"g":10.2},
{"s":224,"a":74.7,"b":9,"c":6,"d":8,"e":0,"f":0,"g":2.3},
{"s":225,"a":74.6,"b":8,"c":5,"d":10,"e":0,"f":0,"g":2.4},
{"s":226,"a":74.5,"b":10,"c":4,"d":10,"e":0,"f":0,"g":1.5},
{"s":227,"a":74.4,"b":12,"c":5,"d":7,"e":0,"f":0,"g":1.6},
{"s":228,"a":74.4,"b":9,"c":6,"d":9,"e":0,"f":0,"g":1.6},
{"s":229,"a":74.3,"b":6,"c":5,"d":13,"e":0,"f":0,"g":1.7},
{"s":230,"a":74.2,"b":5,"c":6,"d":13,"e":0,"f":0,"g":1.8},
{"s":231,"a":74.1,"b":12,"c":3,"d":5,"e":0,"f":0,"g":5.9},
{"s":232,"a":74.0,"b":6,"c":14,"d":4,"e":0,"f":0,"g":2.0},
{"s":233,"a":73.9,"b":4,"c":17,"d":3,"e":0,"f":0,"g":2.1},
{"s":234,"a":73.8,"b":5,"c":16,"d":3,"e":0,"f":0,"g":2.2},
{"s":235,"a":73.7,"b":6,"c":15,"d":4,"e":0,"f":0,"g":1.3},
{"s":236,"a":73.7,"b":7,"c":14,"d":4,"e":0,"f":0,"g":1.3},
{"s":237,"a":73.6,"b":5,"c":14,"d":6,"e":0,"f":0,"g":1.4},
{"s":238,"a":73.5,"b":6,"c":12,"d":7,"e":0,"f":0,"g":1.5},
{"s":239,"a":73.4,"b":11,"c":4,"d":10,"e":0,"f":0,"g":1.6},
{"s":240,"a":73.3,"b":11,"c":6,"d":8,"e":0,"f":0,"g":1.7},
{"s":241,"a":73.2,"b":10,"c":8,"d":7,"e":0,"f":0,"g":1.8},
{"s":242,"a":73.1,"b":11,"c":7,"d":7,"e":0,"f":0,"g":1.9},
{"s":243,"a":72.9,"b":10,"c":8,"d":7,"e":0,"f":0,"g":2.1},
{"s":244,"a":72.8,"b":12,"c":7,"d":6,"e":0,"f":0,"g":2.2},
{"s":245,"a":72.7,"b":11,"c":9,"d":5,"e":0,"f":0,"g":2.3},
{"s":246,"a":72.6,"b":12,"c":7,"d":7,"e":0,"f":0,"g":1.4},
{"s":247,"a":72.5,"b":11,"c":8,"d":7,"e":0,"f":0,"g":1.5},
{"s":248,"a":72.4,"b":6,"c":3,"d":17,"e":0,"f":0,"g":1.6},
{"s":249,"a":72.3,"b":5,"c":2,"d":19,"e":0,"f":0,"g":1.7},
{"s":250,"a":72.2,"b":4,"c":3,"d":19,"e":0,"f":0,"g":1.8},
{"s":251,"a":72.1,"b":6,"c":5,"d":15,"e":0,"f":0,"g":1.9},
{"s":252,"a":72.0,"b":4,"c":3,"d":19,"e":0,"f":0,"g":2.0},
{"s":253,"a":71.8,"b":5,"c":3,"d":18,"e":0,"f":0,"g":2.2},
{"s":254,"a":71.7,"b":3,"c":6,"d":16,"e":0,"f":0,"g":3.3},
{"s":255,"a":71.6,"b":2,"c":8,"d":5,"e":0,"f":0,"g":13.4},
{"s":256,"a":71.4,"b":3,"c":10,"d":10,"e":0,"f":0,"g":5.6},
{"s":257,"a":71.3,"b":4,"c":5,"d":17,"e":0,"f":0,"g":2.7},
{"s":258,"a":71.1,"b":10,"c":4,"d":13,"e":0,"f":0,"g":1.9},
{"s":259,"a":71.0,"b":20,"c":3,"d":4,"e":0,"f":0,"g":2.0},
{"s":260,"a":70.8,"b":24,"c":1,"d":2,"e":0,"f":0,"g":2.2},
{"s":261,"a":70.7,"b":15,"c":3,"d":9,"e":0,"f":0,"g":2.3},
{"s":262,"a":70.5,"b":12,"c":2,"d":14,"e":0,"f":0,"g":1.5},
{"s":263,"a":70.3,"b":17,"c":5,"d":6,"e":0,"f":0,"g":1.7},
{"s":264,"a":70.2,"b":20,"c":4,"d":4,"e":0,"f":0,"g":1.8},
{"s":265,"a":70.0,"b":14,"c":6,"d":8,"e":0,"f":0,"g":2.0},
{"s":266,"a":69.9,"b":11,"c":8,"d":9,"e":0,"f":0,"g":2.1},
{"s":267,"a":69.7,"b":8,"c":13,"d":7,"e":0,"f":0,"g":2.3},
{"s":268,"a":69.5,"b":10,"c":8,"d":10,"e":0,"f":0,"g":2.5},
{"s":269,"a":69.4,"b":7,"c":4,"d":17,"e":0,"f":0,"g":2.6},
{"s":270,"a":69.2,"b":5,"c":3,"d":21,"e":0,"f":0,"g":1.8},
{"s":271,"a":69.1,"b":4,"c":3,"d":22,"e":0,"f":0,"g":1.9},
{"s":272,"a":68.9,"b":5,"c":4,"d":20,"e":0,"f":0,"g":2.1},
{"s":273,"a":68.8,"b":6,"c":3,"d":20,"e":0,"f":0,"g":2.2},
{"s":274,"a":68.6,"b":8,"c":4,"d":17,"e":0,"f":0,"g":2.4},
{"s":275,"a":68.4,"b":6,"c":5,"d":12,"e":0,"f":0,"g":8.6},
{"s":276,"a":68.3,"b":7,"c":6,"d":9,"e":0,"f":0,"g":9.7},
{"s":277,"a":68.1,"b":13,"c":8,"d":9,"e":0,"f":0,"g":1.9},
{"s":278,"a":67.8,"b":12,"c":9,"d":9,"e":0,"f":0,"g":2.2},
{"s":279,"a":67.6,"b":13,"c":7,"d":10,"e":0,"f":0,"g":2.4},
{"s":280,"a":67.3,"b":10,"c":5,"d":15,"e":0,"f":0,"g":2.7},
{"s":281,"a":67.1,"b":6,"c":17,"d":8,"e":0,"f":0,"g":1.9},
{"s":282,"a":66.9,"b":3,"c":22,"d":6,"e":0,"f":0,"g":2.1},
{"s":283,"a":66.6,"b":5,"c":20,"d":6,"e":0,"f":0,"g":2.4},
{"s":284,"a":66.4,"b":9,"c":14,"d":9,"e":0,"f":0,"g":1.6},
{"s":285,"a":66.1,"b":14,"c":8,"d":10,"e":0,"f":0,"g":1.9},
{"s":286,"a":65.9,"b":20,"c":5,"d":7,"e":0,"f":0,"g":2.1},
{"s":287,"a":65.7,"b":25,"c":3,"d":4,"e":0,"f":0,"g":2.3},
{"s":288,"a":65.4,"b":28,"c":2,"d":3,"e":0,"f":0,"g":1.6},
{"s":289,"a":65.2,"b":22,"c":4,"d":7,"e":0,"f":0,"g":1.8},
{"s":290,"a":64.9,"b":15,"c":3,"d":15,"e":0,"f":0,"g":2.1},
{"s":291,"a":64.7,"b":10,"c":5,"d":18,"e":0,"f":0,"g":2.3},
{"s":292,"a":64.4,"b":5,"c":8,"d":20,"e":0,"f":0,"g":2.6},
{"s":293,"a":64.2,"b":4,"c":20,"d":10,"e":0,"f":0,"g":1.8},
{"s":294,"a":63.9,"b":5,"c":24,"d":5,"e":0,"f":0,"g":2.1},
{"s":295,"a":63.6,"b":6,"c":22,"d":6,"e":0,"f":0,"g":2.4},
{"s":296,"a":63.3,"b":14,"c":12,"d":8,"e":0,"f":0,"g":2.7},
{"s":297,"a":63.0,"b":20,"c":8,"d":7,"e":0,"f":0,"g":2.0},
{"s":298,"a":62.8,"b":12,"c":14,"d":9,"e":0,"f":0,"g":2.2},
{"s":299,"a":62.5,"b":8,"c":18,"d":9,"e":0,"f":0,"g":2.5},
{"s":300,"a":62.2,"b":6,"c":12,"d":16,"e":0,"f":2,"g":1.8},
{"s":301,"a":61.9,"b":5,"c":6,"d":25,"e":0,"f":0,"g":2.1},
{"s":302,"a":61.6,"b":4,"c":4,"d":28,"e":0,"f":0,"g":2.4},
{"s":303,"a":61.3,"b":5,"c":3,"d":29,"e":0,"f":0,"g":1.7},
{"s":304,"a":61.0,"b":4,"c":3,"d":30,"e":0,"f":0,"g":2.0},
{"s":305,"a":60.2,"b":5,"c":2,"d":31,"e":0,"f":0,"g":1.8},
{"s":306,"a":59.4,"b":6,"c":2,"d":30,"e":0,"f":0,"g":2.6},
{"s":307,"a":58.6,"b":7,"c":3,"d":29,"e":0,"f":0,"g":2.4},
{"s":308,"a":57.8,"b":10,"c":4,"d":26,"e":0,"f":0,"g":2.2},
{"s":309,"a":57.0,"b":25,"c":4,"d":12,"e":0,"f":0,"g":2.0},
{"s":310,"a":56.2,"b":40,"c":1,"d":1,"e":0,"f":0,"g":1.8},
{"s":311,"a":55.4,"b":30,"c":6,"d":5,"e":0,"f":0,"g":3.6},
{"s":312,"a":54.6,"b":8,"c":30,"d":5,"e":0,"f":0,"g":2.4},
{"s":313,"a":53.8,"b":6,"c":32,"d":6,"e":0,"f":0,"g":2.2},
{"s":314,"a":53.0,"b":10,"c":18,"d":17,"e":0,"f":0,"g":2.0},
{"s":315,"a":52.2,"b":9,"c":20,"d":16,"e":0,"f":1,"g":1.8},
{"s":316,"a":51.4,"b":10,"c":22,"d":12,"e":1,"f":2,"g":1.6},
{"s":317,"a":50.5,"b":10,"c":23,"d":11,"e":1,"f":3,"g":1.5}
],
"C":[
{"s":1,"a":100,"b":0,"c":0,"d":0,"e":0,"f":0,"g":0},
{"s":2,"a":100,"b":0,"c":0,"d":0,"e":0,"f":0,"g":0},
{"s":3,"a":99.5,"b":0.1,"c":0.1,"d":0.1,"e":0,"f":0,"g":0.2},
{"s":4,"a":99.3,"b":0.2,"c":0.1,"d":0.1,"e":0,"f":0,"g":0.3},
{"s":5,"a":99.0,"b":0.3,"c":0.1,"d":0.2,"e":0.1,"f":0,"g":0.3},
{"s":6,"a":98.8,"b":0.4,"c":0.2,"d":0.2,"e":0.1,"f":0,"g":0.3},
{"s":7,"a":98.5,"b":0.5,"c":0.2,"d":0.3,"e":0.1,"f":0,"g":0.4},
{"s":8,"a":98.3,"b":0.6,"c":0.3,"d":0.3,"e":0.1,"f":0,"g":0.4},
{"s":9,"a":98.0,"b":0.7,"c":0.3,"d":0.4,"e":0.1,"f":0.1,"g":0.4},
{"s":10,"a":97.8,"b":0.8,"c":0.4,"d":0.4,"e":0.1,"f":0.1,"g":0.4},
{"s":11,"a":97.6,"b":1,"c":0.4,"d":0.4,"e":0.1,"f":0.1,"g":0.4},
{"s":12,"a":97.3,"b":1,"c":0,"d":1,"e":0,"f":0,"g":0.7},
{"s":13,"a":97.1,"b":1,"c":1,"d":0,"e":0,"f":0,"g":0.9},
{"s":14,"a":96.9,"b":1,"c":0,"d":1,"e":1,"f":0,"g":0.1},
{"s":15,"a":96.7,"b":1,"c":1,"d":0,"e":1,"f":0,"g":0.3},
{"s":16,"a":96.4,"b":1,"c":0,"d":1,"e":1,"f":0,"g":0.6},
{"s":17,"a":96.2,"b":1,"c":1,"d":1,"e":0,"f":0,"g":0.8},
{"s":18,"a":96.0,"b":2,"c":1,"d":0,"e":0,"f":0,"g":1.0},
{"s":19,"a":95.7,"b":1,"c":1,"d":1,"e":0,"f":0,"g":1.3},
{"s":20,"a":95.5,"b":2,"c":1,"d":1,"e":0,"f":0,"g":0.5},
{"s":21,"a":95.2,"b":1,"c":1,"d":1,"e":0,"f":1,"g":0.8},
{"s":22,"a":95.0,"b":2,"c":1,"d":1,"e":0,"f":0,"g":1.0},
{"s":23,"a":94.8,"b":1,"c":2,"d":1,"e":0,"f":0,"g":1.2},
{"s":24,"a":94.5,"b":2,"c":1,"d":1,"e":0,"f":0,"g":1.5},
{"s":25,"a":94.3,"b":2,"c":1,"d":1,"e":0,"f":1,"g":0.7},
{"s":26,"a":94.0,"b":1,"c":1,"d":1,"e":0,"f":2,"g":1.0},
{"s":27,"a":93.8,"b":2,"c":1,"d":1,"e":0,"f":1,"g":1.2},
{"s":28,"a":93.7,"b":2,"c":1,"d":2,"e":0,"f":0,"g":1.3},
{"s":29,"a":93.5,"b":2,"c":2,"d":1,"e":0,"f":0,"g":1.5},
{"s":30,"a":93.4,"b":1,"c":1,"d":1,"e":0,"f":0,"g":3.6},
{"s":31,"a":93.2,"b":2,"c":2,"d":1,"e":0,"f":1,"g":0.8},
{"s":32,"a":93.1,"b":2,"c":1,"d":2,"e":0,"f":0,"g":1.9},
{"s":33,"a":92.9,"b":2,"c":2,"d":1,"e":1,"f":0,"g":1.1},
{"s":34,"a":92.8,"b":2,"c":1,"d":1,"e":0,"f":0,"g":3.2},
{"s":35,"a":92.7,"b":2,"c":2,"d":2,"e":0,"f":0,"g":1.3},
{"s":36,"a":92.5,"b":3,"c":1,"d":2,"e":0,"f":0,"g":1.5},
{"s":37,"a":92.4,"b":2,"c":2,"d":2,"e":0,"f":1,"g":0.6},
{"s":38,"a":92.3,"b":2,"c":2,"d":2,"e":0,"f":0,"g":1.7},
{"s":39,"a":92.1,"b":2,"c":1,"d":2,"e":0,"f":0,"g":2.9},
{"s":40,"a":92.0,"b":1,"c":1,"d":1,"e":0,"f":0,"g":5.0},
{"s":41,"a":91.8,"b":3,"c":2,"d":2,"e":0,"f":0,"g":1.2},
{"s":42,"a":91.7,"b":2,"c":2,"d":3,"e":0,"f":0,"g":1.3},
{"s":43,"a":91.5,"b":3,"c":2,"d":2,"e":0,"f":0,"g":1.5},
{"s":44,"a":91.3,"b":2,"c":2,"d":2,"e":1,"f":0,"g":1.7},
{"s":45,"a":91.2,"b":3,"c":2,"d":2,"e":0,"f":0,"g":1.8},
{"s":46,"a":91.0,"b":2,"c":3,"d":2,"e":0,"f":0,"g":2.0},
{"s":47,"a":90.8,"b":3,"c":2,"d":3,"e":0,"f":0,"g":1.2},
{"s":48,"a":90.6,"b":2,"c":2,"d":2,"e":0,"f":0,"g":3.4},
{"s":49,"a":90.5,"b":2,"c":2,"d":1,"e":0,"f":0,"g":4.5},
{"s":50,"a":90.3,"b":3,"c":3,"d":2,"e":0,"f":0,"g":1.7},
{"s":51,"a":90.2,"b":3,"c":2,"d":3,"e":0,"f":0,"g":1.8},
{"s":52,"a":90.1,"b":2,"c":3,"d":3,"e":0,"f":0,"g":1.9},
{"s":53,"a":90.0,"b":3,"c":3,"d":2,"e":0,"f":1,"g":1.0},
{"s":54,"a":89.9,"b":3,"c":2,"d":3,"e":0,"f":0,"g":2.1},
{"s":55,"a":89.9,"b":2,"c":3,"d":2,"e":0,"f":2,"g":1.1},
{"s":56,"a":89.8,"b":3,"c":2,"d":3,"e":1,"f":0,"g":1.2},
{"s":57,"a":89.7,"b":3,"c":3,"d":2,"e":0,"f":1,"g":1.3},
{"s":58,"a":89.6,"b":2,"c":3,"d":3,"e":0,"f":0,"g":2.4},
{"s":59,"a":89.5,"b":3,"c":2,"d":3,"e":0,"f":0,"g":2.5},
{"s":60,"a":89.4,"b":3,"c":2,"d":2,"e":0,"f":0,"g":3.6},
{"s":61,"a":89.3,"b":1,"c":1,"d":1,"e":0,"f":0,"g":7.7},
{"s":62,"a":89.2,"b":3,"c":3,"d":2,"e":0,"f":0,"g":2.8},
{"s":63,"a":89.2,"b":3,"c":3,"d":3,"e":0,"f":0,"g":1.8},
{"s":64,"a":89.1,"b":4,"c":2,"d":3,"e":0,"f":0,"g":1.9},
{"s":65,"a":89.0,"b":3,"c":3,"d":3,"e":1,"f":0,"g":1.0},
{"s":66,"a":88.9,"b":3,"c":3,"d":2,"e":0,"f":0,"g":3.1},
{"s":67,"a":88.8,"b":4,"c":3,"d":3,"e":0,"f":0,"g":1.2},
{"s":68,"a":88.8,"b":3,"c":4,"d":3,"e":0,"f":0,"g":1.2},
{"s":69,"a":88.7,"b":4,"c":3,"d":3,"e":0,"f":0,"g":1.3},
{"s":70,"a":88.7,"b":3,"c":3,"d":3,"e":1,"f":0,"g":1.3},
{"s":71,"a":88.6,"b":4,"c":3,"d":2,"e":0,"f":0,"g":2.4},
{"s":72,"a":88.5,"b":3,"c":3,"d":3,"e":0,"f":1,"g":1.5},
{"s":73,"a":88.5,"b":3,"c":2,"d":2,"e":0,"f":3,"g":1.5},
{"s":74,"a":88.4,"b":3,"c":3,"d":2,"e":0,"f":2,"g":1.6},
{"s":75,"a":88.3,"b":3,"c":2,"d":2,"e":2,"f":0,"g":2.7},
{"s":76,"a":88.3,"b":2,"c":2,"d":1,"e":1,"f":0,"g":5.7},
{"s":77,"a":88.2,"b":3,"c":3,"d":3,"e":1,"f":0,"g":1.8},
{"s":78,"a":88.2,"b":4,"c":3,"d":3,"e":0,"f":0,"g":1.8},
{"s":79,"a":88.1,"b":3,"c":3,"d":3,"e":0,"f":0,"g":2.9},
{"s":80,"a":88.0,"b":2,"c":2,"d":2,"e":4,"f":0,"g":2.0},
{"s":81,"a":88.0,"b":1,"c":1,"d":1,"e":8,"f":0,"g":1.0},
{"s":82,"a":87.9,"b":3,"c":3,"d":3,"e":2,"f":0,"g":1.1},
{"s":83,"a":87.8,"b":4,"c":4,"d":2,"e":0,"f":0,"g":2.2},
{"s":84,"a":87.8,"b":3,"c":6,"d":2,"e":0,"f":0,"g":1.2},
{"s":85,"a":87.7,"b":4,"c":6,"d":1,"e":0,"f":0,"g":1.3},
{"s":86,"a":87.7,"b":3,"c":5,"d":3,"e":0,"f":0,"g":1.3},
{"s":87,"a":87.6,"b":4,"c":4,"d":2,"e":0,"f":1,"g":1.4},
{"s":88,"a":87.5,"b":3,"c":6,"d":2,"e":0,"f":0,"g":1.5},
{"s":89,"a":87.5,"b":4,"c":4,"d":2,"e":0,"f":0,"g":2.5},
{"s":90,"a":87.4,"b":3,"c":3,"d":5,"e":0,"f":0,"g":1.6},
{"s":91,"a":87.3,"b":4,"c":3,"d":4,"e":0,"f":0,"g":1.7},
{"s":92,"a":87.3,"b":3,"c":4,"d":4,"e":0,"f":0,"g":1.7},
{"s":93,"a":87.2,"b":4,"c":3,"d":5,"e":0,"f":0,"g":0.8},
{"s":94,"a":87.2,"b":3,"c":4,"d":4,"e":0,"f":0,"g":1.8},
{"s":95,"a":87.1,"b":4,"c":3,"d":5,"e":0,"f":0,"g":0.9},
{"s":96,"a":87.0,"b":3,"c":4,"d":3,"e":0,"f":0,"g":3.0},
{"s":97,"a":87.0,"b":4,"c":4,"d":4,"e":0,"f":0,"g":1.0},
{"s":98,"a":86.9,"b":3,"c":3,"d":3,"e":0,"f":0,"g":3.1},
{"s":99,"a":86.8,"b":3,"c":2,"d":3,"e":0,"f":0,"g":5.2},
{"s":100,"a":86.8,"b":4,"c":4,"d":4,"e":0,"f":0,"g":1.2},
{"s":101,"a":86.7,"b":3,"c":7,"d":2,"e":0,"f":0,"g":1.3},
{"s":102,"a":86.7,"b":4,"c":6,"d":2,"e":0,"f":0,"g":1.3},
{"s":103,"a":86.6,"b":3,"c":8,"d":1,"e":0,"f":0,"g":1.4},
{"s":104,"a":86.5,"b":4,"c":7,"d":1,"e":0,"f":0,"g":1.5},
{"s":105,"a":86.5,"b":3,"c":8,"d":1,"e":0,"f":0,"g":1.5},
{"s":106,"a":86.4,"b":4,"c":6,"d":2,"e":0,"f":0,"g":1.6},
{"s":107,"a":86.3,"b":3,"c":5,"d":4,"e":0,"f":0,"g":1.7},
{"s":108,"a":86.3,"b":4,"c":4,"d":4,"e":0,"f":0,"g":1.7},
{"s":109,"a":86.2,"b":3,"c":5,"d":3,"e":1,"f":0,"g":1.8},
{"s":110,"a":86.1,"b":4,"c":4,"d":4,"e":0,"f":0,"g":1.9},
{"s":111,"a":86.0,"b":3,"c":5,"d":4,"e":0,"f":0,"g":2.0},
{"s":112,"a":86.0,"b":4,"c":4,"d":3,"e":0,"f":0,"g":3.0},
{"s":113,"a":85.9,"b":4,"c":5,"d":4,"e":0,"f":0,"g":1.1},
{"s":114,"a":85.8,"b":3,"c":4,"d":5,"e":0,"f":0,"g":2.2},
{"s":115,"a":85.8,"b":4,"c":3,"d":3,"e":0,"f":0,"g":4.2},
{"s":116,"a":85.7,"b":3,"c":4,"d":4,"e":1,"f":0,"g":2.3},
{"s":117,"a":85.6,"b":1,"c":1,"d":1,"e":9,"f":0,"g":2.4},
{"s":118,"a":85.5,"b":4,"c":4,"d":4,"e":1,"f":0,"g":1.5},
{"s":119,"a":85.5,"b":7,"c":3,"d":3,"e":0,"f":0,"g":1.5},
{"s":120,"a":85.4,"b":4,"c":4,"d":5,"e":0,"f":0,"g":1.6},
{"s":121,"a":85.3,"b":3,"c":3,"d":7,"e":0,"f":0,"g":1.7},
{"s":122,"a":85.2,"b":4,"c":2,"d":8,"e":0,"f":0,"g":0.8},
{"s":123,"a":85.2,"b":3,"c":3,"d":7,"e":0,"f":0,"g":1.8},
{"s":124,"a":85.1,"b":4,"c":2,"d":8,"e":0,"f":0,"g":0.9},
{"s":125,"a":85.0,"b":3,"c":3,"d":8,"e":0,"f":0,"g":1.0},
{"s":126,"a":85.0,"b":4,"c":4,"d":6,"e":0,"f":0,"g":1.0},
{"s":127,"a":84.9,"b":3,"c":3,"d":8,"e":0,"f":0,"g":1.1},
{"s":128,"a":84.8,"b":4,"c":2,"d":8,"e":0,"f":0,"g":1.2},
{"s":129,"a":84.7,"b":3,"c":3,"d":7,"e":0,"f":0,"g":2.3},
{"s":130,"a":84.7,"b":4,"c":3,"d":7,"e":0,"f":0,"g":1.3},
{"s":131,"a":84.6,"b":3,"c":5,"d":6,"e":0,"f":0,"g":1.4},
{"s":132,"a":84.5,"b":4,"c":6,"d":4,"e":0,"f":0,"g":1.5},
{"s":133,"a":84.4,"b":3,"c":7,"d":4,"e":0,"f":0,"g":1.6},
{"s":134,"a":84.4,"b":4,"c":6,"d":4,"e":0,"f":0,"g":1.6},
{"s":135,"a":84.3,"b":3,"c":5,"d":6,"e":0,"f":0,"g":1.7},
{"s":136,"a":84.2,"b":4,"c":4,"d":6,"e":0,"f":0,"g":1.8},
{"s":137,"a":84.2,"b":3,"c":4,"d":5,"e":0,"f":0,"g":3.8},
{"s":138,"a":84.1,"b":4,"c":6,"d":4,"e":0,"f":0,"g":1.9},
{"s":139,"a":84.0,"b":3,"c":9,"d":2,"e":0,"f":0,"g":2.0},
{"s":140,"a":83.9,"b":4,"c":10,"d":1,"e":0,"f":0,"g":1.1},
{"s":141,"a":83.9,"b":3,"c":11,"d":1,"e":0,"f":0,"g":1.1},
{"s":142,"a":83.8,"b":4,"c":9,"d":2,"e":0,"f":0,"g":1.2},
{"s":143,"a":83.7,"b":3,"c":10,"d":2,"e":0,"f":0,"g":1.3},
{"s":144,"a":83.7,"b":4,"c":9,"d":2,"e":0,"f":0,"g":1.3},
{"s":145,"a":83.6,"b":5,"c":6,"d":4,"e":0,"f":0,"g":1.4},
{"s":146,"a":83.6,"b":6,"c":5,"d":4,"e":0,"f":0,"g":1.4},
{"s":147,"a":83.5,"b":6,"c":4,"d":5,"e":0,"f":0,"g":1.5},
{"s":148,"a":83.4,"b":5,"c":4,"d":6,"e":0,"f":0,"g":1.6},
{"s":149,"a":83.3,"b":4,"c":6,"d":5,"e":0,"f":0,"g":1.7},
{"s":150,"a":83.2,"b":4,"c":8,"d":3,"e":0,"f":0,"g":1.8},
{"s":151,"a":83.1,"b":3,"c":9,"d":3,"e":0,"f":0,"g":1.9},
{"s":152,"a":82.9,"b":4,"c":9,"d":3,"e":0,"f":0,"g":1.1},
{"s":153,"a":82.8,"b":3,"c":10,"d":3,"e":0,"f":0,"g":1.2},
{"s":154,"a":82.7,"b":4,"c":9,"d":3,"e":0,"f":0,"g":1.3},
{"s":155,"a":82.6,"b":3,"c":6,"d":4,"e":0,"f":0,"g":4.4},
{"s":156,"a":82.5,"b":3,"c":4,"d":3,"e":0,"f":0,"g":7.5},
{"s":157,"a":82.4,"b":1,"c":1,"d":1,"e":1,"f":0,"g":13.6},
{"s":158,"a":82.3,"b":3,"c":3,"d":3,"e":0,"f":0,"g":8.7},
{"s":159,"a":82.2,"b":3,"c":7,"d":5,"e":0,"f":0,"g":2.8},
{"s":160,"a":82.1,"b":3,"c":8,"d":5,"e":0,"f":0,"g":1.9},
{"s":161,"a":82.0,"b":4,"c":7,"d":5,"e":0,"f":0,"g":2.0},
{"s":162,"a":81.8,"b":4,"c":5,"d":4,"e":0,"f":0,"g":5.2},
{"s":163,"a":81.7,"b":3,"c":4,"d":5,"e":0,"f":4,"g":2.3},
{"s":164,"a":81.6,"b":4,"c":3,"d":10,"e":0,"f":0,"g":1.4},
{"s":165,"a":81.5,"b":3,"c":3,"d":11,"e":0,"f":0,"g":1.5},
{"s":166,"a":81.4,"b":4,"c":4,"d":9,"e":0,"f":0,"g":1.6},
{"s":167,"a":81.3,"b":3,"c":3,"d":10,"e":0,"f":0,"g":2.7},
{"s":168,"a":81.2,"b":4,"c":2,"d":8,"e":1,"f":0,"g":3.8},
{"s":169,"a":81.1,"b":3,"c":3,"d":10,"e":0,"f":0,"g":2.9},
{"s":170,"a":81.0,"b":3,"c":2,"d":7,"e":0,"f":0,"g":7.0},
{"s":171,"a":80.9,"b":4,"c":3,"d":10,"e":0,"f":0,"g":2.1},
{"s":172,"a":80.9,"b":3,"c":4,"d":10,"e":0,"f":0,"g":2.1},
{"s":173,"a":80.8,"b":3,"c":3,"d":6,"e":0,"f":0,"g":7.2},
{"s":174,"a":80.7,"b":4,"c":3,"d":10,"e":0,"f":0,"g":2.3},
{"s":175,"a":80.7,"b":5,"c":5,"d":7,"e":0,"f":0,"g":2.3},
{"s":176,"a":80.6,"b":6,"c":7,"d":5,"e":0,"f":0,"g":1.4},
{"s":177,"a":80.5,"b":5,"c":9,"d":4,"e":0,"f":0,"g":1.5},
{"s":178,"a":80.5,"b":4,"c":10,"d":4,"e":0,"f":0,"g":1.5},
{"s":179,"a":80.4,"b":6,"c":9,"d":3,"e":0,"f":0,"g":1.6},
{"s":180,"a":80.4,"b":8,"c":8,"d":2,"e":0,"f":0,"g":1.6},
{"s":181,"a":80.3,"b":10,"c":6,"d":2,"e":0,"f":0,"g":1.7},
{"s":182,"a":80.2,"b":8,"c":8,"d":2,"e":0,"f":0,"g":1.8},
{"s":183,"a":80.2,"b":6,"c":9,"d":3,"e":0,"f":0,"g":1.8},
{"s":184,"a":80.1,"b":5,"c":6,"d":4,"e":0,"f":0,"g":4.9},
{"s":185,"a":80.0,"b":3,"c":3,"d":3,"e":0,"f":0,"g":11.0},
{"s":186,"a":80.0,"b":4,"c":5,"d":5,"e":0,"f":0,"g":6.0},
{"s":187,"a":79.9,"b":2,"c":2,"d":2,"e":0,"f":0,"g":14.1},
{"s":188,"a":79.8,"b":4,"c":4,"d":10,"e":0,"f":0,"g":2.2},
{"s":189,"a":79.8,"b":3,"c":3,"d":12,"e":0,"f":0,"g":2.2},
{"s":190,"a":79.7,"b":4,"c":3,"d":11,"e":0,"f":0,"g":2.3},
{"s":191,"a":79.5,"b":3,"c":4,"d":12,"e":0,"f":0,"g":1.5},
{"s":192,"a":79.4,"b":3,"c":3,"d":9,"e":0,"f":0,"g":5.6},
{"s":193,"a":79.2,"b":4,"c":3,"d":5,"e":0,"f":0,"g":8.8},
{"s":194,"a":79.1,"b":5,"c":4,"d":10,"e":0,"f":0,"g":1.9},
{"s":195,"a":78.9,"b":9,"c":3,"d":7,"e":0,"f":0,"g":2.1},
{"s":196,"a":78.8,"b":12,"c":2,"d":5,"e":0,"f":0,"g":2.2},
{"s":197,"a":78.6,"b":5,"c":8,"d":6,"e":0,"f":0,"g":2.4},
{"s":198,"a":78.5,"b":4,"c":11,"d":5,"e":0,"f":0,"g":1.5},
{"s":199,"a":78.3,"b":3,"c":12,"d":5,"e":0,"f":0,"g":1.7},
{"s":200,"a":78.1,"b":4,"c":10,"d":6,"e":0,"f":0,"g":1.9},
{"s":201,"a":78.0,"b":3,"c":12,"d":5,"e":0,"f":0,"g":2.0},
{"s":202,"a":77.8,"b":4,"c":9,"d":7,"e":0,"f":0,"g":2.2},
{"s":203,"a":77.7,"b":3,"c":6,"d":6,"e":0,"f":0,"g":7.3},
{"s":204,"a":77.5,"b":4,"c":5,"d":8,"e":0,"f":0,"g":5.5},
{"s":205,"a":77.4,"b":5,"c":6,"d":7,"e":0,"f":3,"g":1.6},
{"s":206,"a":77.2,"b":3,"c":10,"d":8,"e":0,"f":0,"g":1.8},
{"s":207,"a":77.1,"b":2,"c":13,"d":6,"e":0,"f":0,"g":1.9},
{"s":208,"a":76.9,"b":3,"c":12,"d":6,"e":0,"f":0,"g":2.1},
{"s":209,"a":76.8,"b":5,"c":8,"d":8,"e":0,"f":0,"g":2.2},
{"s":210,"a":76.6,"b":9,"c":5,"d":8,"e":0,"f":0,"g":1.4},
{"s":211,"a":76.5,"b":12,"c":4,"d":6,"e":0,"f":0,"g":1.5},
{"s":212,"a":76.3,"b":8,"c":5,"d":9,"e":0,"f":0,"g":1.7},
{"s":213,"a":76.2,"b":5,"c":9,"d":8,"e":0,"f":0,"g":1.8},
{"s":214,"a":76.0,"b":4,"c":7,"d":11,"e":0,"f":0,"g":2.0},
{"s":215,"a":75.9,"b":9,"c":4,"d":9,"e":0,"f":0,"g":2.1},
{"s":216,"a":75.7,"b":12,"c":3,"d":7,"e":0,"f":0,"g":2.3},
{"s":217,"a":75.6,"b":7,"c":5,"d":10,"e":0,"f":0,"g":2.4},
{"s":218,"a":75.4,"b":5,"c":5,"d":13,"e":0,"f":0,"g":1.6},
{"s":219,"a":75.3,"b":6,"c":4,"d":13,"e":0,"f":0,"g":1.7},
{"s":220,"a":75.1,"b":7,"c":3,"d":13,"e":0,"f":0,"g":1.9},
{"s":221,"a":75.0,"b":6,"c":4,"d":13,"e":0,"f":0,"g":2.0},
{"s":222,"a":74.8,"b":8,"c":5,"d":10,"e":0,"f":0,"g":2.2},
{"s":223,"a":74.7,"b":9,"c":6,"d":8,"e":0,"f":0,"g":2.3},
{"s":224,"a":74.5,"b":8,"c":8,"d":8,"e":0,"f":0,"g":1.5},
{"s":225,"a":74.3,"b":9,"c":10,"d":5,"e":0,"f":0,"g":1.7},
{"s":226,"a":74.2,"b":11,"c":11,"d":2,"e":0,"f":0,"g":1.8},
{"s":227,"a":74.0,"b":10,"c":12,"d":2,"e":0,"f":0,"g":2.0},
{"s":228,"a":73.9,"b":12,"c":10,"d":2,"e":0,"f":0,"g":2.1},
{"s":229,"a":73.7,"b":10,"c":12,"d":2,"e":0,"f":0,"g":2.3},
{"s":230,"a":73.6,"b":11,"c":11,"d":3,"e":0,"f":0,"g":1.4},
{"s":231,"a":73.4,"b":9,"c":9,"d":7,"e":0,"f":0,"g":1.6},
{"s":232,"a":73.3,"b":8,"c":6,"d":11,"e":0,"f":0,"g":1.7},
{"s":233,"a":73.1,"b":6,"c":5,"d":14,"e":0,"f":0,"g":1.9},
{"s":234,"a":72.9,"b":5,"c":4,"d":16,"e":0,"f":0,"g":2.1},
{"s":235,"a":72.8,"b":6,"c":3,"d":16,"e":0,"f":0,"g":2.2},
{"s":236,"a":72.6,"b":5,"c":4,"d":16,"e":0,"f":0,"g":2.4},
{"s":237,"a":72.5,"b":7,"c":3,"d":15,"e":0,"f":0,"g":2.5},
{"s":238,"a":72.3,"b":6,"c":4,"d":16,"e":0,"f":0,"g":1.7},
{"s":239,"a":72.2,"b":5,"c":3,"d":18,"e":0,"f":0,"g":1.8},
{"s":240,"a":72.0,"b":6,"c":4,"d":16,"e":0,"f":0,"g":2.0},
{"s":241,"a":71.8,"b":7,"c":6,"d":13,"e":0,"f":0,"g":2.2},
{"s":242,"a":71.6,"b":8,"c":9,"d":9,"e":0,"f":0,"g":2.4},
{"s":243,"a":71.4,"b":7,"c":11,"d":9,"e":0,"f":0,"g":1.6},
{"s":244,"a":71.2,"b":9,"c":9,"d":9,"e":0,"f":0,"g":1.8},
{"s":245,"a":71.0,"b":12,"c":7,"d":8,"e":0,"f":0,"g":2.0},
{"s":246,"a":70.8,"b":8,"c":10,"d":9,"e":0,"f":0,"g":2.2},
{"s":247,"a":70.6,"b":5,"c":6,"d":10,"e":0,"f":0,"g":8.4},
{"s":248,"a":70.4,"b":2,"c":2,"d":3,"e":3,"f":0,"g":19.6},
{"s":249,"a":69.5,"b":4,"c":6,"d":8,"e":1,"f":0,"g":11.5},
{"s":250,"a":68.8,"b":5,"c":23,"d":2,"e":0,"f":0,"g":1.2},
{"s":251,"a":68.5,"b":8,"c":14,"d":8,"e":0,"f":0,"g":1.5},
{"s":252,"a":68.2,"b":14,"c":8,"d":8,"e":0,"f":0,"g":1.8},
{"s":253,"a":67.8,"b":29,"c":1,"d":1,"e":0,"f":0,"g":1.2},
{"s":254,"a":67.5,"b":14,"c":10,"d":7,"e":0,"f":0,"g":1.5},
{"s":255,"a":67.1,"b":8,"c":14,"d":9,"e":0,"f":0,"g":1.9},
{"s":256,"a":66.7,"b":7,"c":17,"d":7,"e":0,"f":0,"g":2.3},
{"s":257,"a":66.4,"b":10,"c":12,"d":10,"e":0,"f":0,"g":1.6},
{"s":258,"a":66.0,"b":15,"c":5,"d":12,"e":0,"f":0,"g":2.0},
{"s":259,"a":65.7,"b":12,"c":4,"d":15,"e":0,"f":1,"g":2.3},
{"s":260,"a":65.3,"b":8,"c":6,"d":13,"e":0,"f":3,"g":4.7},
{"s":261,"a":65.0,"b":5,"c":2,"d":1,"e":0,"f":1,"g":26.0},
{"s":262,"a":64.6,"b":15,"c":5,"d":12,"e":0,"f":0,"g":3.4},
{"s":263,"a":64.2,"b":20,"c":6,"d":8,"e":0,"f":0,"g":1.8},
{"s":264,"a":63.9,"b":14,"c":10,"d":10,"e":0,"f":0,"g":2.1},
{"s":265,"a":63.5,"b":8,"c":14,"d":12,"e":0,"f":0,"g":2.5},
{"s":266,"a":63.1,"b":9,"c":10,"d":12,"e":1,"f":3,"g":1.9},
{"s":267,"a":62.6,"b":10,"c":8,"d":10,"e":1,"f":7,"g":1.4},
{"s":268,"a":62.2,"b":12,"c":9,"d":14,"e":1,"f":0,"g":1.8},
{"s":269,"a":61.7,"b":10,"c":14,"d":12,"e":0,"f":0,"g":2.3},
{"s":270,"a":61.3,"b":9,"c":18,"d":10,"e":0,"f":0,"g":1.7},
{"s":271,"a":60.9,"b":8,"c":20,"d":9,"e":0,"f":0,"g":2.1},
{"s":272,"a":60.4,"b":10,"c":16,"d":12,"e":0,"f":0,"g":1.6},
{"s":273,"a":60.0,"b":14,"c":10,"d":14,"e":0,"f":0,"g":2.0},
{"s":274,"a":59.5,"b":20,"c":6,"d":13,"e":0,"f":0,"g":1.5},
{"s":275,"a":58.9,"b":30,"c":3,"d":6,"e":0,"f":0,"g":2.1},
{"s":276,"a":58.4,"b":38,"c":1,"d":1,"e":0,"f":0,"g":1.6},
{"s":277,"a":57.8,"b":22,"c":6,"d":12,"e":0,"f":0,"g":2.2},
{"s":278,"a":57.0,"b":10,"c":12,"d":19,"e":0,"f":0,"g":2.0},
{"s":279,"a":56.0,"b":6,"c":15,"d":21,"e":0,"f":0,"g":2.0},
{"s":280,"a":54.5,"b":5,"c":17,"d":21,"e":1,"f":0,"g":1.5},
{"s":281,"a":52.5,"b":4,"c":20,"d":20,"e":2,"f":0,"g":1.5}
]
},
"vconcat":[
{
"data":{"name":"A"},
"width":638,"height":167,
"title":{"text":"a.","anchor":"start","frame":"group","offset":-27.5,"dx":-94,"dy":25,"baseline":"alphabetic","fontSize":30},
"transform":[{"fold":["a","b","c","d","e","f","g"],"as":["k","v"]}],
"mark":{"type":"area","interpolate":"linear","opacity":1},
"encoding":{
"x":{"field":"s","type":"quantitative","scale":{"domain":[1,209],"nice":false,"zero":false},
"axis":{"tickCount":208,"labelExpr":"(datum.value - 1) % 7 === 0 ? datum.label : ''","labelAngle":270,"labelOverlap":false,"labelFlush":false,"labelBound":false,"tickSize":6,"labelPadding":7,"title":["Subjects",""],"titleLineHeight":15.5,"titleX":293,"titleY":50,"titleAlign":"center","titleBaseline":"top"}},
"y":{"field":"v","type":"quantitative","stack":"normalize",
"axis":{"values":[0,0.2,0.4,0.6,0.8,1],"format":".0%","tickSize":6,"labelPadding":11,"title":"Ancestry","titleAngle":0,"titleAlign":"center","titleBaseline":"middle","titleX":-103.3,"titleY":72.5}},
"color":{"field":"k","type":"nominal","scale":{"domain":["a","b","c","d","e","f","g"],"range":["#4572A7","#AA4643","#89A54E","#71588F","#4198AF","#DB843D","#93A9CF"]},"legend":null},
"order":{"field":"k","type":"ordinal","sort":"ascending"}
}
},
{
"data":{"name":"B"},
"width":912,"height":204,
"title":{"text":"b.","anchor":"start","frame":"group","offset":-30,"dx":-94,"dy":25.5,"baseline":"alphabetic","fontSize":30},
"transform":[{"fold":["a","b","c","d","e","f","g"],"as":["k","v"]}],
"mark":{"type":"area","interpolate":"linear","opacity":1},
"encoding":{
"x":{"field":"s","type":"quantitative","scale":{"domain":[1,317],"nice":false,"zero":false},
"axis":{"tickCount":316,"labelExpr":"(datum.value - 1) % 8 === 0 ? datum.label : ''","labelAngle":270,"labelOverlap":false,"labelFlush":false,"labelBound":false,"tickSize":6,"labelPadding":6,"title":"Subjects","titleX":285,"titleY":54.7,"titleAlign":"center","titleBaseline":"top"}},
"y":{"field":"v","type":"quantitative","stack":"normalize",
"axis":{"values":[0,0.2,0.4,0.6,0.8,1],"format":".0%","tickSize":6,"labelPadding":11,"title":"Ancestry","titleAngle":0,"titleAlign":"center","titleBaseline":"middle","titleX":-103.3,"titleY":109.8}},
"color":{"field":"k","type":"nominal","scale":{"domain":["a","b","c","d","e","f","g"],"range":["#4572A7","#AA4643","#89A54E","#71588F","#4198AF","#DB843D","#93A9CF"]},"legend":null},
"order":{"field":"k","type":"ordinal","sort":"ascending"}
}
},
{
"data":{"name":"C"},
"width":831,"height":214,
"title":{"text":"c.","anchor":"start","frame":"group","offset":-30,"dx":-94,"dy":25.5,"baseline":"alphabetic","fontSize":30},
"transform":[{"fold":["a","b","c","d","e","f","g"],"as":["k","v"]}],
"mark":{"type":"area","interpolate":"linear","opacity":1},
"encoding":{
"x":{"field":"s","type":"quantitative","scale":{"domain":[1,281],"nice":false,"zero":false},
"axis":{"tickCount":280,"labelExpr":"(datum.value - 1) % 8 === 0 ? datum.label : ''","labelAngle":270,"labelOverlap":false,"labelFlush":false,"labelBound":false,"tickSize":6,"labelPadding":3,"title":"Subjects","titleX":304,"titleY":51.5,"titleAlign":"center","titleBaseline":"top"}},
"y":{"field":"v","type":"quantitative","stack":"normalize",
"axis":{"values":[0,0.2,0.4,0.6,0.8,1],"format":".0%","tickSize":6,"labelPadding":11,"title":"Ancestry","titleAngle":0,"titleAlign":"center","titleBaseline":"middle","titleX":-103.3,"titleY":98.5}},
"color":{"field":"k","type":"nominal","scale":{"domain":["a","b","c","d","e","f","g"],"range":["#4572A7","#AA4643","#89A54E","#71588F","#4198AF","#DB843D","#93A9CF"]},"legend":null},
"order":{"field":"k","type":"ordinal","sort":"ascending"}
}
}
]
}
